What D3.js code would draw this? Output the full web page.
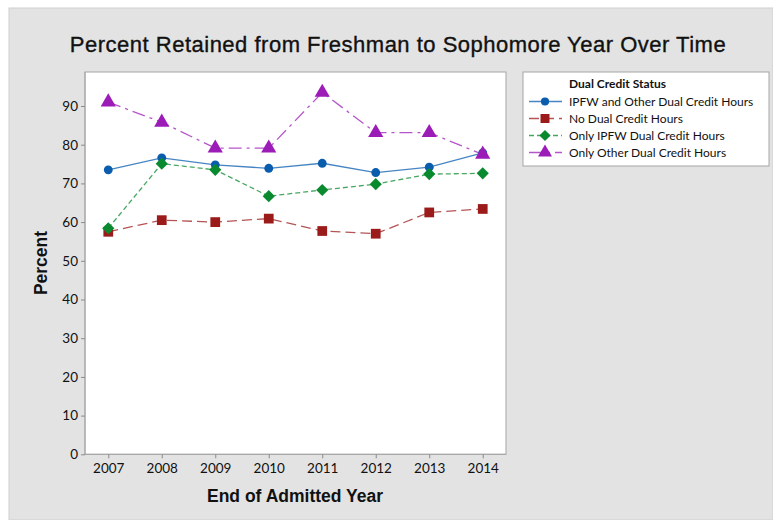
<!DOCTYPE html>
<html>
<head>
<meta charset="utf-8">
<script src="https://d3js.org/d3.v7.min.js"></script>
<style>
body { margin: 0; background: #fff; }
</style>
</head>
<body>
<div id="chart"></div>
<script>
//Width and height
var w = 773;
var h = 520;

// data
var years = [2007, 2008, 2009, 2010, 2011, 2012, 2013, 2014];
var seriesNames = ["IPFW  and Other Dual Credit Hours", "No Dual Credit Hours", "Only IPFW  Dual Credit Hours", "Only Other Dual Credit Hours"];
var bothHours = [73.5, 76.6, 74.8, 73.9, 75.2, 72.8, 74.2, 77.9];
var noHours = [57.5, 60.5, 60.0, 60.9, 57.7, 57.0, 62.5, 63.4];
var onlyIpfw = [58.4, 75.1, 73.5, 66.7, 68.3, 69.8, 72.4, 72.6];
var onlyOther = [91.0, 85.8, 79.1, 79.1, 93.5, 83.1, 83.1, 77.5];
var yTicks = [0, 10, 20, 30, 40, 50, 60, 70, 80, 90];

var allSeries = [bothHours, noHours, onlyIpfw, onlyOther];
var colors = ["#0a5cad", "#9b1b1b", "#0a8a2e", "#9c1cb8"];
var dashes = [null, "10,5", "5,3", "13,5,3,5"];
var symbols = [d3.symbolCircle, d3.symbolSquare, d3.symbolSquare, d3.symbolTriangle];
var symSizes = [62, 95, 74, 100];
var symRotate = [0, 0, 45, 0];

//Plot area
var plotL = 85, plotR = 506, plotT = 72, plotB = 454.3;

var svg = d3.select("#chart")
            .append("svg")
            .attr("width", w)
            .attr("height", h);

// gray background
svg.append("rect")
   .attr("x", 9).attr("y", 8)
   .attr("width", w - 9).attr("height", h - 8)
   .attr("fill", "#e3e3e3")
   .attr("stroke", "#cfcfcf");

var x = d3.scalePoint()
          .domain(years)
          .range([plotL, plotR])
          .padding(0.435);

var y = d3.scaleLinear()
          .domain([0, (plotB - plotT) / 3.87])
          .range([plotB, plotT]);

// plot frame
svg.append("rect")
   .attr("x", plotL).attr("y", plotT)
   .attr("width", plotR - plotL).attr("height", plotB - plotT)
   .attr("fill", "#fff")
   .attr("stroke", "#a6a6a6");

// axes
var yAxis = d3.axisLeft(y).tickValues(yTicks).tickSize(4).tickPadding(3);
var xAxis = d3.axisBottom(x).tickSize(4).tickPadding(5);

var gy = svg.append("g").attr("transform", "translate(" + plotL + ",0)").call(yAxis);
var gx = svg.append("g").attr("transform", "translate(0," + plotB + ")").call(xAxis);

[gx, gy].forEach(function(g) {
    g.select(".domain").attr("stroke", "#a6a6a6");
    g.selectAll(".tick line").attr("stroke", "#8a8a8a");
    g.selectAll("text")
     .attr("fill", "#111")
     .style("font-family", "Lato, 'Open Sans', sans-serif")
     .style("font-size", "13.5px");
});
gy.select(".domain").attr("d", "M0," + plotT + "V" + plotB);
gx.select(".domain").attr("d", "M" + plotL + ",0H" + plotR);

// lines and markers
var line = d3.line()
             .x(function(d, i) { return x(years[i]); })
             .y(function(d) { return y(d); });

allSeries.forEach(function(vals, k) {
    svg.append("path")
       .attr("d", line(vals))
       .attr("fill", "none")
       .attr("stroke", colors[k])
       .attr("stroke-opacity", 0.75)
       .attr("stroke-width", 1.3)
       .attr("stroke-dasharray", dashes[k]);
});
allSeries.forEach(function(vals, k) {
    svg.selectAll(".m" + k)
       .data(vals)
       .enter()
       .append("path")
       .attr("class", "m" + k)
       .attr("transform", function(d, i) {
           return "translate(" + x(years[i]) + "," + y(d) + ") rotate(" + symRotate[k] + ")";
       })
       .attr("d", d3.symbol().type(symbols[k]).size(symSizes[k]))
       .attr("fill", colors[k]);
});

// title and axis labels
svg.append("text")
   .attr("x", 398).attr("y", 52)
   .attr("text-anchor", "middle")
   .style("font-family", "'Liberation Sans', Arial, sans-serif")
   .style("font-size", "22px")
   .style("letter-spacing", "0.5px")
   .attr("fill", "#111")
   .attr("stroke", "#111")
   .attr("stroke-width", 0.35)
   .text("Percent Retained from Freshman to Sophomore Year Over Time");

svg.append("text")
   .attr("transform", "translate(47,263) rotate(-90)")
   .attr("text-anchor", "middle")
   .style("font-family", "'Liberation Sans', Arial, sans-serif")
   .style("font-size", "17.5px")
   .style("font-weight", "bold")
   .attr("fill", "#111")
   .text("Percent");

svg.append("text")
   .attr("x", 295).attr("y", 502)
   .attr("text-anchor", "middle")
   .style("font-family", "'Liberation Sans', Arial, sans-serif")
   .style("font-size", "17.5px")
   .style("font-weight", "bold")
   .attr("fill", "#111")
   .text("End of Admitted Year");

// legend
var lg = svg.append("g");
lg.append("rect")
  .attr("x", 523).attr("y", 72)
  .attr("width", 246).attr("height", 94)
  .attr("fill", "#fff")
  .attr("stroke", "#a6a6a6");
lg.append("text")
  .attr("x", 569).attr("y", 88)
  .style("font-family", "Lato, sans-serif")
  .style("font-size", "12px")
  .style("font-weight", "bold")
  .attr("fill", "#111")
  .text("Dual Credit Status");

seriesNames.forEach(function(name, k) {
    var ly = 101.5 + k * 17;
    lg.append("line")
      .attr("x1", 529).attr("x2", 562)
      .attr("y1", ly).attr("y2", ly)
      .attr("stroke", colors[k])
      .attr("stroke-opacity", 0.75)
      .attr("stroke-width", 1.3)
      .attr("stroke-dasharray", dashes[k]);
    lg.append("path")
      .attr("transform", "translate(545," + ly + ") rotate(" + symRotate[k] + ")")
      .attr("d", d3.symbol().type(symbols[k]).size(symSizes[k] * 0.85))
      .attr("fill", colors[k]);
    lg.append("text")
      .attr("x", 569).attr("y", ly + 4)
      .style("font-family", "Lato, sans-serif")
      .style("font-size", "12px")
      .attr("fill", "#111")
      .text(name);
});
</script>
</body>
</html>
